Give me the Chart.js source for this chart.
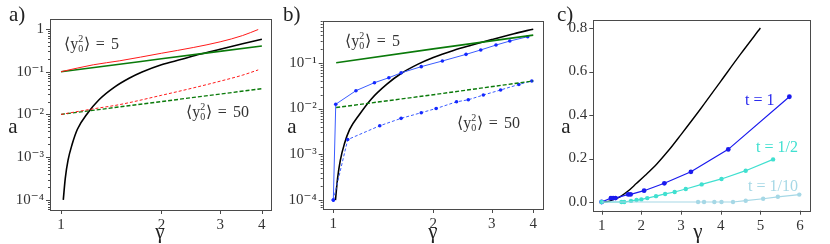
<!DOCTYPE html>
<html><head><meta charset="utf-8">
<script src="https://cdn.jsdelivr.net/npm/chart.js@4/dist/chart.umd.min.js"></script>
<style>
body{margin:0;background:#fff;width:830px;height:244px;position:relative;overflow:hidden}
canvas{position:absolute;top:0}
</style></head><body>
<canvas id="ca" width="280" height="244" style="left:0"></canvas>
<canvas id="cb" width="276" height="244" style="left:278px"></canvas>
<canvas id="cc" width="276" height="244" style="left:554px"></canvas>
<script>
// ---- panel a) ----
const blackAX = [1.016, 1.03, 1.05, 1.08, 1.12, 1.2, 1.3, 1.45, 1.6, 1.75, 2.0, 2.3, 2.6, 3.0, 3.5, 4.0];
const blackAY = [1e-4, 3.2e-4, 8.5e-4, 2.0e-3, 4.5e-3, 0.0105, 0.022, 0.044, 0.07, 0.098, 0.145, 0.195, 0.255, 0.335, 0.45, 0.575];
const redAX = [1, 1.25, 1.5, 2, 2.5, 3, 3.5, 3.9];
const redAY = [0.1, 0.145, 0.18, 0.27, 0.37, 0.5, 0.7, 0.97];
const redDashAX = [1, 1.25, 1.5, 2, 2.5, 3, 3.5, 3.9];
const redDashAY = [0.01, 0.0135, 0.017, 0.028, 0.042, 0.06, 0.083, 0.11];
const greenAX = [1, 2, 4];
const greenAY = [0.1, 0.2, 0.4];
const greenDashAX = [1, 2, 4];
const greenDashAY = [0.01, 0.02, 0.04];

// ---- panel b) ----
const blackBX = [1.015, 1.03, 1.05, 1.08, 1.12, 1.2, 1.3, 1.45, 1.6, 1.8, 2.0, 2.3, 2.6, 3.0, 3.5, 4.0];
const blackBY = [1e-4, 3e-4, 7.5e-4, 1.7e-3, 3.5e-3, 7.5e-3, 0.016, 0.034, 0.058, 0.093, 0.13, 0.185, 0.24, 0.32, 0.43, 0.54];
const blueBX = [1, 1.017, 1.17, 1.33, 1.47, 1.6, 1.84, 2.13, 2.51, 2.78, 3.09, 3.4, 3.85];
const blueBY = [1e-4, 0.0124, 0.0245, 0.0366, 0.047, 0.06, 0.082, 0.109, 0.152, 0.19, 0.243, 0.297, 0.37];
const blueDashBX = [1, 1.105, 1.38, 1.6, 1.84, 2.04, 2.35, 2.55, 2.83, 3.19, 3.62, 3.96];
const blueDashBY = [1e-4, 0.0021, 0.0042, 0.0061, 0.0081, 0.01, 0.014, 0.0155, 0.0197, 0.0254, 0.0335, 0.040];
const greenBX = [1.02, 2, 4];
const greenBY = [0.1, 0.2, 0.4];
const greenDashBX = [1.02, 2, 4];
const greenDashBY = [0.0105, 0.02, 0.04];

// ---- panel c) ----
const blackCX = [1, 1.2, 1.35, 1.46, 1.65, 1.88, 2.1, 2.39, 2.7, 3.0, 3.5, 4, 4.5, 5];
const blackCY = [0, 0.004, 0.015, 0.024, 0.048, 0.086, 0.123, 0.175, 0.24, 0.31, 0.43, 0.555, 0.68, 0.8];
const t1X = [1, 1.234, 1.29, 1.35, 1.67, 1.73, 2.07, 2.58, 3.25, 4.19, 5.73];
const t1Y = [0, 0.018, 0.018, 0.018, 0.035, 0.035, 0.052, 0.086, 0.139, 0.242, 0.484];
const t2X = [1, 1.5, 1.57, 1.74, 1.88, 2.0, 2.15, 2.37, 2.6, 2.84, 3.12, 3.52, 4.02, 4.63, 5.32];
const t2Y = [0, 0, 0, 0.005, 0.009, 0.012, 0.018, 0.027, 0.037, 0.046, 0.06, 0.081, 0.106, 0.144, 0.196];
const t10X = [1, 3.43, 3.58, 3.84, 4.02, 4.31, 4.63, 5.07, 5.44, 5.98];
const t10Y = [0, 0, 0, 0, 0, 0, 0.006, 0.015, 0.024, 0.034];

// ticks
const xTicksAB = [1, 2, 3, 4];
const yMajorA = [1e-4, 1e-3, 1e-2, 1e-1, 1];
const yMajorB = [1e-4, 1e-3, 1e-2, 1e-1];
const xTicksC = [1, 2, 3, 4, 5, 6];
const yTicksC = [0, 0.2, 0.4, 0.6, 0.8];

const SERIF = '"Liberation Serif", "DejaVu Serif", serif';
const pts = (xs, ys) => xs.map((x, i) => ({x, y: ys[i]}));
const SUP = {'-':'⁻','0':'⁰','1':'¹','2':'²','3':'³','4':'⁴','5':'⁵'};
const isPow10 = v => Math.abs(Math.log10(v) - Math.round(Math.log10(v))) < 1e-9;
function logLabel(v){
  if (!isPow10(v)) return '';
  const e = Math.round(Math.log10(v));
  if (e === 0) return '1';
  return '10' + String(e).split('').map(c => SUP[c]).join('');
}
function withMinors(majors, lo, hi){
  const out = [];
  for (const p of majors.concat([majors[majors.length-1]*10]))
    for (let m = 1; m < 10; m++){ const v = m*p/10; if (v >= lo && v <= hi) out.push(v); }
  return out;
}

function line(data, color, opt){
  return Object.assign({data, borderColor: color, backgroundColor: color, borderWidth: 1.3,
    pointRadius: 0, tension: 0, fill: false}, opt || {});
}

// frame, outward ticks and the loose texts
function decor(texts){
  return {
    id: 'decor',
    afterDraw(chart){
      const c = chart.ctx, a = chart.chartArea;
      c.save();
      c.strokeStyle = '#4a4a4a'; c.lineWidth = 1;
      c.strokeRect(Math.round(a.left)+0.5, Math.round(a.top)+0.5, Math.round(a.right-a.left), Math.round(a.bottom-a.top));
      const xs = chart.scales.x, ys = chart.scales.y;
      c.beginPath();
      xs.ticks.forEach(t => {
        const px = Math.round(xs.getPixelForValue(t.value)) + 0.5;
        c.moveTo(px, a.bottom); c.lineTo(px, a.bottom + 4);
      });
      ys.ticks.forEach(t => {
        const py = Math.round(ys.getPixelForValue(t.value)) + 0.5;
        c.moveTo(a.left, py); c.lineTo(a.left - (t.major ? 4 : 2), py);
      });
      c.stroke();
      texts.forEach(t => t(c));
      c.restore();
    }
  };
}
function txt(s, x, y, size, color, align){
  return c => { c.font = size + 'px ' + SERIF; c.fillStyle = color || '#222';
    c.textAlign = align || 'left'; c.textBaseline = 'alphabetic'; c.fillText(s, x, y); };
}
function y0(x, y, rest, size){
  return c => {
    c.font = size + 'px ' + SERIF; c.fillStyle = '#333'; c.textAlign = 'left'; c.textBaseline = 'alphabetic';
    c.fillText('⟨y', x, y);
    const w = c.measureText('⟨y').width;
    c.font = Math.round(size*0.6) + 'px ' + SERIF;
    c.fillText('2', x + w, y - size*0.42);
    c.fillText('0', x + w, y + size*0.2);
    c.font = size + 'px ' + SERIF;
    c.fillText('⟩', x + w + size*0.36, y);
    const w2 = c.measureText('⟩').width;
    c.fillText('=', x + w + size*0.36 + w2 + size*0.35, y);
    c.fillText(rest, x + w + size*0.36 + w2 + size*1.3, y);
  };
}

function makeChart(id, datasets, xOpt, yOpt, pad, yW, xH, texts){
  return new Chart(document.getElementById(id), {
    type: 'line',
    data: {datasets},
    options: {
      responsive: false, animation: false,
      layout: {padding: pad},
      plugins: {legend: {display: false}, tooltip: {enabled: false}},
      scales: {
        x: Object.assign({type: 'linear', bounds: 'data',
          grid: {display: false, drawTicks: false}, border: {display: false},
          afterFit: s => { s.height = xH; }}, xOpt),
        y: Object.assign({type: 'linear', bounds: 'data',
          grid: {display: false, drawTicks: false}, border: {display: false},
          afterFit: s => { s.width = yW; }}, yOpt)
      }
    },
    plugins: [decor(texts)]
  });
}

const tickStyle = {font: {family: SERIF, size: 15}, color: '#333', padding: 6, autoSkip: false, maxRotation: 0};
const logX = (min, max) => ({type: 'logarithmic', min, max,
  afterBuildTicks: s => { s.ticks = xTicksAB.map(v => ({value: v, major: true})); },
  ticks: Object.assign({callback: v => String(v)}, tickStyle)});
const logY = (min, max, majors) => ({type: 'logarithmic', min, max,
  afterBuildTicks: s => { s.ticks = withMinors(majors, min, max).map(v => ({value: v, major: isPow10(v)})); },
  ticks: Object.assign({callback: v => logLabel(v)}, tickStyle)});

// a)
makeChart('ca', [
  line(pts(redAX, redAY), '#ff1a1a', {borderWidth: 1, cubicInterpolationMode: 'monotone'}),
  line(pts(redDashAX, redDashAY), '#ff1a1a', {borderWidth: 1, borderDash: [3, 2], cubicInterpolationMode: 'monotone'}),
  line(pts(greenAX, greenAY), '#0a7a0a', {borderWidth: 1.6, cubicInterpolationMode: 'monotone'}),
  line(pts(greenDashAX, greenDashAY), '#0a7a0a', {borderWidth: 1.4, borderDash: [4, 2], cubicInterpolationMode: 'monotone'}),
  line(pts(blackAX, blackAY), '#000', {borderWidth: 1.6, cubicInterpolationMode: 'monotone'})
], logX(0.927, 4.26), logY(5.8e-5, 1.71, yMajorA), {left: 0, top: 19, right: 9, bottom: 0}, 50, 34, [
  txt('a)', 9, 21, 21, '#222'),
  txt('a', 13, 133, 21, '#222', 'center'),
  txt('γ', 160, 238, 21, '#222', 'center'),
  y0(64, 49, '5', 16),
  y0(186, 117, '50', 16)
]);

// b)
makeChart('cb', [
  line(pts(greenBX, greenBY), '#0a7a0a', {borderWidth: 1.6}),
  line(pts(greenDashBX, greenDashBY), '#0a7a0a', {borderWidth: 1.4, borderDash: [4, 2]}),
  line(pts(blueBX, blueBY), '#3a5cff', {borderWidth: 1, pointRadius: 1.8, pointBackgroundColor: '#1428ff', pointBorderWidth: 0}),
  line(pts(blueDashBX, blueDashBY), '#3a5cff', {borderWidth: 1, borderDash: [3, 2], pointRadius: 1.8, pointBackgroundColor: '#1428ff', pointBorderWidth: 0}),
  line(pts(blackBX, blackBY), '#000', {borderWidth: 1.6, cubicInterpolationMode: 'monotone'})
], logX(0.929, 4.28), logY(6.4e-5, 0.826, yMajorB), {left: 0, top: 20.7, right: 11, bottom: 0}, 44.7, 35, [
  txt('b)', 5, 21, 21, '#222'),
  txt('a', 14, 133, 21, '#222', 'center'),
  txt('γ', 155, 238, 21, '#222', 'center'),
  y0(67, 46, '5', 16),
  y0(179, 128, '50', 16)
]);

// c)
makeChart('cc', [
  line(pts(t10X, t10Y), '#a6d8e6', {borderWidth: 1.2, pointRadius: [0,2.2,2.2,2.2,2.2,2.2,2.2,2.2,2.2,2.2], pointBorderWidth: 0}),
  line(pts(t2X, t2Y), '#40e0d0', {borderWidth: 1.2, pointRadius: 2.2, pointBorderWidth: 0}),
  line(pts(t1X, t1Y), '#1a1aee', {borderWidth: 1.2, pointRadius: 2.4, pointBorderWidth: 0}),
  line(pts(blackCX, blackCY), '#000', {borderWidth: 1.4, cubicInterpolationMode: 'monotone'})
], {min: 0.79, max: 6.25,
    afterBuildTicks: s => { s.ticks = xTicksC.map(v => ({value: v, major: true})); },
    ticks: Object.assign({callback: v => String(v)}, tickStyle)},
  {min: -0.04, max: 0.837,
    afterBuildTicks: s => { s.ticks = yTicksC.map(v => ({value: v, major: true})); },
    ticks: Object.assign({callback: v => v.toFixed(1)}, tickStyle)},
  {left: 0, top: 20, right: 20, bottom: 0}, 39.3, 33.3, [
  txt('c)', 3, 21, 21, '#222'),
  txt('a', 12, 133, 21, '#222', 'center'),
  txt('γ', 144, 238, 21, '#222', 'center'),
  txt('t = 1', 191, 105, 16, '#2a2aee'),
  txt('t = 1/2', 202, 152, 16, '#40e0d0'),
  txt('t = 1/10', 194, 191, 16, '#a6d8e6')
]);
</script>
</body></html>
